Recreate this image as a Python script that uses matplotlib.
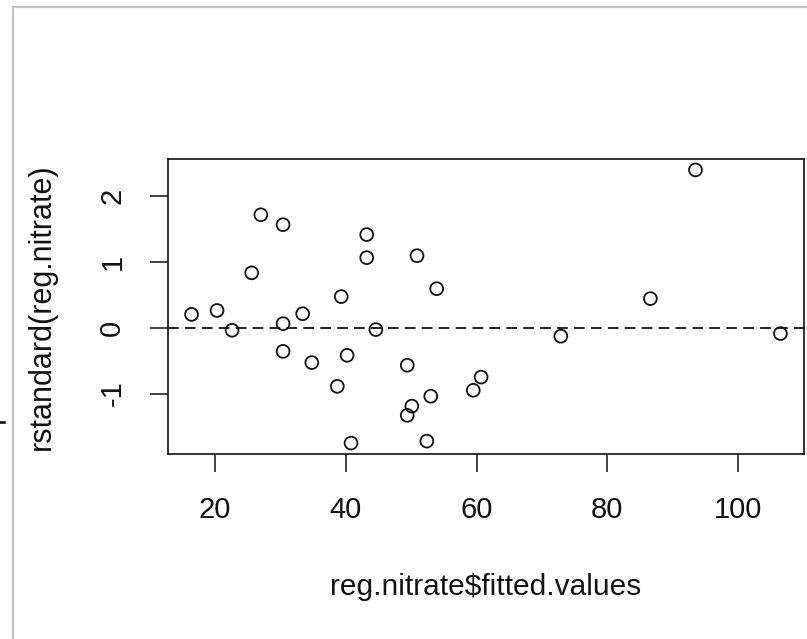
import matplotlib.pyplot as plt
from matplotlib.lines import Line2D

# valores (ajustados vs residuos estandarizados)
fitted = [16.4, 20.3, 22.6, 25.6, 27.0, 30.4, 30.4, 30.4, 33.4, 34.8,
          38.7, 39.3, 40.2, 40.8, 43.2, 43.2, 44.6, 49.4, 49.4, 50.1,
          50.9, 52.4, 53.0, 53.9, 59.5, 60.7, 72.9, 86.6, 93.5, 106.5]
rstd = [0.20, 0.26, -0.04, 0.83, 1.71, 1.56, 0.06, -0.36, 0.21, -0.53,
        -0.89, 0.47, -0.42, -1.75, 1.41, 1.06, -0.03, -0.57, -1.33, -1.19,
        1.09, -1.72, -1.04, 0.59, -0.95, -0.75, -0.13, 0.44, 2.39, -0.09]
xticks = [20, 40, 60, 80, 100]
yticks = [-1, 0, 1, 2]

plt.rcParams['font.family'] = ['Liberation Sans', 'DejaVu Sans']
W, H = 807, 639
fig = plt.figure(figsize=(W / 100, H / 100), dpi=100)

# posicion del panel en pixeles de la captura
left, right, top, bottom = 168, 804, 159, 454
ax = fig.add_axes([left / W, 1 - bottom / H, (right - left) / W, (bottom - top) / H])

ax.scatter(fitted, rstd, s=85, facecolors='none', edgecolors='#111111', linewidths=1.3, zorder=3)
ax.axhline(0, color='#222222', lw=1.4, linestyle=(0, (5.5, 3.2)))

# rango al estilo R (4% extra a cada lado)
xr = max(fitted) - min(fitted)
yr = max(rstd) - min(rstd)
ax.set_xlim(min(fitted) - 0.04 * xr, max(fitted) + 0.04 * xr)
ax.set_ylim(min(rstd) - 0.04 * yr, max(rstd) + 0.04 * yr)

ax.set_xticks(xticks)
ax.set_yticks(yticks)
ax.set_yticklabels([str(v) for v in yticks], rotation=90, va='center')
ax.tick_params(direction='out', length=13, width=1.1, colors='#111111', labelsize=21, pad=17)
for s in ax.spines.values():
    s.set_linewidth(1.2)
    s.set_color('#111111')

ax.set_xlabel('reg.nitrate$fitted.values', fontsize=21.5, color='#111111')
ax.set_ylabel('rstandard(reg.nitrate)', fontsize=22, color='#111111')
ax.xaxis.set_label_coords((486 - left) / (right - left), (bottom - 587) / (bottom - top))
ax.yaxis.set_label_coords((42 - left) / (right - left), 0.5)
ax.xaxis.label.set_va('center')
ax.yaxis.label.set_va('center')

# borde gris de la captura y la marca suelta a la izquierda
fig.add_artist(Line2D([13 / W, 1], [1 - 7 / H, 1 - 7 / H], color='#c4c4c4', lw=1.6))
fig.add_artist(Line2D([13 / W, 13 / W], [0, 1 - 7 / H], color='#c4c4c4', lw=1.6))
fig.add_artist(Line2D([0, 4 / W], [1 - 422 / H, 1 - 422 / H], color='black', lw=1.8))

fig.savefig('out.png', dpi=100)
